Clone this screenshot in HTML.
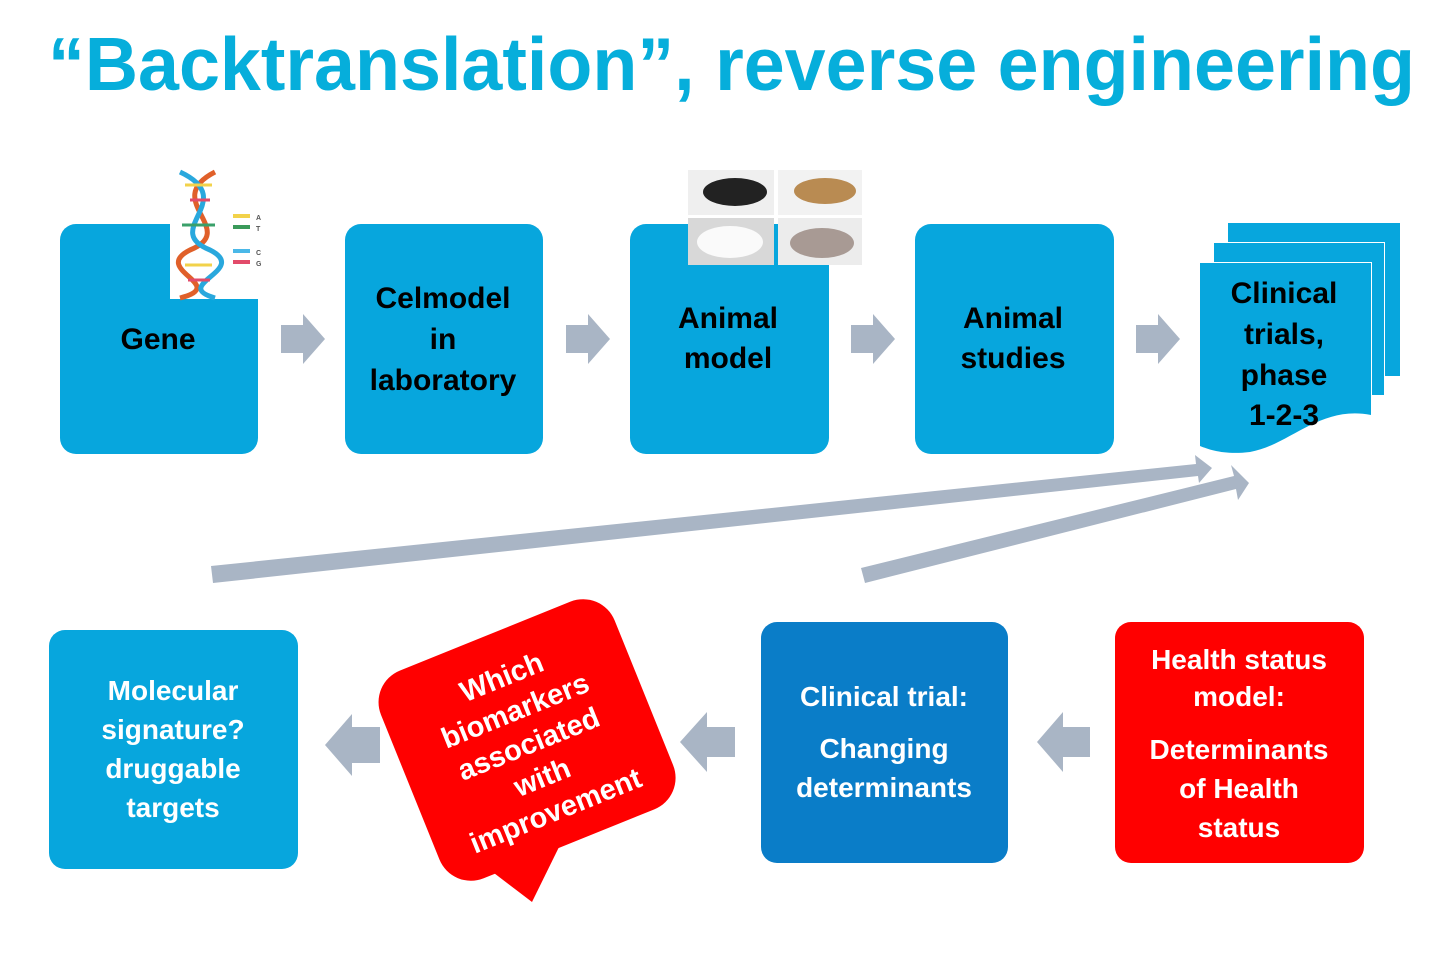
<!DOCTYPE html>
<html><head><meta charset="utf-8"><style>
html,body{margin:0;padding:0;background:#fff;}
svg{display:block}
text{font-family:"Liberation Sans",sans-serif;font-weight:bold}
</style></head><body>
<svg width="1440" height="956" viewBox="0 0 1440 956" xmlns="http://www.w3.org/2000/svg">
<text x="48" y="90" font-size="75" fill="#06aedb" textLength="1367" lengthAdjust="spacingAndGlyphs">“Backtranslation”, reverse engineering</text>

<!-- top boxes -->
<rect x="60" y="224" width="198" height="230" rx="16" fill="#07a6dd"/>
<rect x="345" y="224" width="198" height="230" rx="16" fill="#07a6dd"/>
<rect x="630" y="224" width="199" height="230" rx="16" fill="#07a6dd"/>
<rect x="915" y="224" width="199" height="230" rx="16" fill="#07a6dd"/>

<!-- DNA cutout -->
<rect x="170" y="166" width="92" height="133" fill="#fff"/>
<g stroke-width="5" fill="none">
<path d="M215 172 C160 200,240 230,190 250 C150 270,230 285,180 298" stroke="#e0602a"/>
<path d="M180 172 C240 200,160 230,210 250 C250 270,170 285,215 298" stroke="#29a8dd"/>
</g>
<g stroke-width="3">
<line x1="185" y1="185" x2="212" y2="185" stroke="#f2d24a"/>
<line x1="190" y1="200" x2="210" y2="200" stroke="#e24b6a"/>
<line x1="182" y1="225" x2="215" y2="225" stroke="#3aa06a"/>
<line x1="185" y1="265" x2="212" y2="265" stroke="#f2d24a"/>
<line x1="188" y1="280" x2="210" y2="280" stroke="#e24b6a"/>
</g>
<rect x="233" y="214" width="17" height="4" fill="#f2d24a"/><rect x="233" y="225" width="17" height="4" fill="#3a9a5a"/>
<rect x="233" y="249" width="17" height="4" fill="#4ab8e8"/><rect x="233" y="260" width="17" height="4" fill="#e24b6a"/>
<text x="256" y="220" font-size="7" fill="#555">A</text><text x="256" y="231" font-size="7" fill="#555">T</text>
<text x="256" y="255" font-size="7" fill="#555">C</text><text x="256" y="266" font-size="7" fill="#555">G</text>

<!-- mice -->
<rect x="688" y="170" width="86" height="45" fill="#efefef"/>
<rect x="778" y="170" width="84" height="45" fill="#f2f2f2"/>
<rect x="688" y="218" width="86" height="47" fill="#d8d8d8"/>
<rect x="778" y="218" width="84" height="47" fill="#ececec"/>
<ellipse cx="735" cy="192" rx="32" ry="14" fill="#222"/>
<ellipse cx="825" cy="191" rx="31" ry="13" fill="#b98b52"/>
<ellipse cx="730" cy="242" rx="33" ry="16" fill="#fafafa"/>
<ellipse cx="822" cy="243" rx="32" ry="15" fill="#a89a94"/>

<!-- stacked docs -->
<rect x="1228" y="223" width="172" height="153" fill="#07a6dd"/>
<rect x="1213" y="242" width="172" height="153" fill="#fff"/>
<rect x="1214" y="243" width="170" height="152" fill="#07a6dd"/>
<rect x="1199" y="262" width="173" height="153" fill="#fff"/>
<path d="M1200 263 H1371 V415 C1320 405,1290 445,1250 452 C1225 455,1210 450,1200 446 Z" fill="#07a6dd"/>

<g font-size="30" fill="#000" text-anchor="middle">
<text x="158" y="349">Gene</text>
<text x="443" y="308">Celmodel</text><text x="443" y="349">in</text><text x="443" y="390">laboratory</text>
<text x="728" y="328">Animal</text><text x="728" y="368">model</text>
<text x="1013" y="328">Animal</text><text x="1013" y="368">studies</text>
<text x="1284" y="303">Clinical</text><text x="1284" y="344">trials,</text><text x="1284" y="385">phase</text><text x="1284" y="425">1-2-3</text>
</g>

<!-- chevron arrows -->
<g fill="#a9b5c5">
<path d="M281 325 H303 V314 L325 339 L303 364 V353 H281 Z"/>
<path d="M566 325 H588 V314 L610 339 L588 364 V353 H566 Z"/>
<path d="M851 325 H873 V314 L895 339 L873 364 V353 H851 Z"/>
<path d="M1136 325 H1158 V314 L1180 339 L1158 364 V353 H1136 Z"/>
<path d="M380 727 H352 V714 L325 745 L352 776 V763 H380 Z"/>
<path d="M735 727 H707 V712 L680 742 L707 772 V757 H735 Z"/>
<path d="M1090 727 H1063 V712 L1037 742 L1063 772 V757 H1090 Z"/>
<!-- long arrows -->
<polygon points="211,566 1196,464 1195,455 1212,468 1199,483 1198,476 213,583"/>
<polygon points="861,568 1234,476 1231,465 1249,483 1238,500 1236,489 865,583"/>
</g>

<!-- bottom boxes -->
<rect x="49" y="630" width="249" height="239" rx="16" fill="#07a6dd"/>
<rect x="761" y="622" width="247" height="241" rx="16" fill="#0a7dc8"/>
<rect x="1115" y="622" width="249" height="241" rx="16" fill="#f00"/>
<g font-size="28" fill="#fff" text-anchor="middle">
<text x="173" y="700">Molecular</text><text x="173" y="739">signature?</text><text x="173" y="778">druggable</text><text x="173" y="817">targets</text>
<text x="884" y="706">Clinical trial:</text><text x="884" y="758">Changing</text><text x="884" y="797">determinants</text>
<text x="1239" y="669">Health status</text><text x="1239" y="706">model:</text><text x="1239" y="759">Determinants</text><text x="1239" y="798">of Health</text><text x="1239" y="837">status</text>
</g>

<!-- speech bubble -->
<polygon points="490,870 560,845 532,902" fill="#f00"/>
<g transform="rotate(-22 528 745)">
<rect x="403" y="628" width="252" height="224" rx="34" fill="#f00"/>
<g font-size="29" fill="#fff" text-anchor="middle">
<text x="529" y="682">Which</text><text x="529" y="718">biomarkers</text><text x="529" y="754">associated</text><text x="529" y="790">with</text><text x="529" y="826">improvement</text>
</g>
</g>
</svg>
</body></html>
